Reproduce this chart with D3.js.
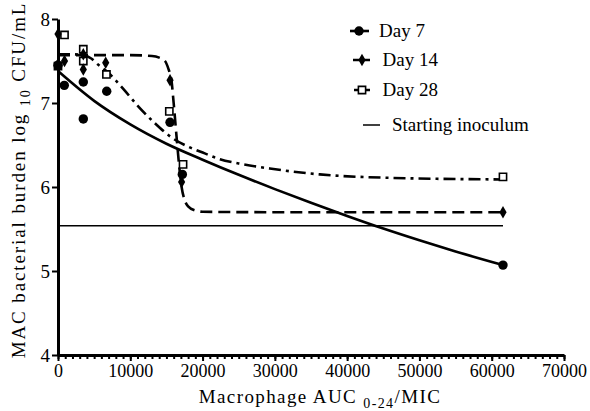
<!DOCTYPE html>
<html><head><meta charset="utf-8">
<script src="https://cdn.jsdelivr.net/npm/d3@7"></script>
<style>body{margin:0;background:#fff}svg{display:block}
svg text{font-family:"Liberation Serif","Liberation Sans",Arial,sans-serif;fill:#000}</style>
</head><body><svg id="c" width="590" height="411"></svg>
<script>
// ---- data ----
const xTicks = [0,10000,20000,30000,40000,50000,60000,70000];
const yTicks = [4,5,6,7,8];
const seriesNames = ["Day 7","Day 14","Day 28"];
const inoculumLabel = "Starting inoculum";
const inoculum = 5.54;
const inoculumX = [0, 61560];

const day7X = [0,870,3500,3500,6740,15500,17200,61560];
const day7Y = [7.45,7.21,7.25,6.81,7.14,6.77,6.15,5.07];
const day14X = [0,0,900,3500,3500,6600,15500,17100,61560];
const day14Y = [7.82,7.46,7.50,7.58,7.40,7.48,7.27,6.06,5.70];
const day28X = [0,900,3500,3500,6700,15400,17300,61560];
const day28Y = [7.44,7.81,7.64,7.50,7.34,6.90,6.27,6.12];

// fitted curves
const fit7X = [0,5000,10000,15000,20000,25000,30000,35000,40000,45000,50000,55000,61560];
const fit7Y = [7.38,7.025,6.745,6.515,6.325,6.145,5.975,5.812,5.655,5.505,5.365,5.232,5.07];
const fit14X = [0,5000,10000,13000,14000,14800,15300,15700,16000,16400,16800,17100,17500,18000,19000,20000,30000,61560];
const fit14Y = [7.57,7.57,7.57,7.56,7.54,7.50,7.40,7.27,7.00,6.60,6.22,6.00,5.85,5.77,5.72,5.705,5.70,5.70];
const fit28X = [0,2000,3500,4600,5500,6700,9000,11000,13400,15700,18000,20300,22400,25000,29300,36200,45500,61560];
const fit28Y = [7.58,7.58,7.57,7.53,7.46,7.38,7.17,6.97,6.76,6.59,6.48,6.40,6.33,6.28,6.22,6.15,6.11,6.09];

// ---- drawing ----
const svg = d3.select("#c");
const x = d3.scaleLinear().domain([0,70000]).range([58,564]);
const y = d3.scaleLinear().domain([4,8]).range([355,19]);

svg.append("g").attr("transform","translate(0,355)")
  .call(d3.axisBottom(x).tickValues(d3.range(0,70001,1000)).tickSize(4).tickFormat(""))
  .call(g=>{g.select(".domain").remove();g.selectAll("line").attr("stroke-width",2);});
svg.append("g").attr("transform","translate(0,355)")
  .call(d3.axisBottom(x).tickValues(xTicks).tickSize(6).tickPadding(3).tickFormat(d3.format("d")).tickSizeOuter(0))
  .call(g=>{g.attr("font-family",null);g.select(".domain").attr("stroke-width",3);
    g.selectAll("line").attr("stroke-width",2);
    g.selectAll("text").attr("font-size",18);});
svg.append("g").attr("transform","translate(58,0)")
  .call(d3.axisLeft(y).tickValues(yTicks).tickSize(6).tickPadding(2).tickFormat(d3.format("d")).tickSizeOuter(0))
  .call(g=>{g.attr("font-family",null);g.select(".domain").attr("stroke-width",3);
    g.selectAll("line").attr("stroke-width",2);
    g.selectAll("text").attr("font-size",19);});

svg.append("line").attr("x1",x(inoculumX[0])).attr("x2",x(inoculumX[1]))
  .attr("y1",y(inoculum)).attr("y2",y(inoculum)).attr("stroke","#000").attr("stroke-width",1.5);

const line = d3.line().x(d=>x(d[0])).y(d=>y(d[1])).curve(d3.curveMonotoneX);
const dashes = [null,"12,6","12,5,3,5"];
const fits = [[fit7X,fit7Y],[fit14X,fit14Y],[fit28X,fit28Y]];
fits.forEach((f,i)=>{
  svg.append("path").datum(f[0].map((v,j)=>[v,f[1][j]]))
    .attr("d",line).attr("fill","none").attr("stroke","#000").attr("stroke-width",2.6)
    .attr("stroke-dasharray",dashes[i]);
});

const sym = [d3.symbol().type(d3.symbolCircle).size(70),
             d3.symbol().type(d3.symbolDiamond).size(45),
             d3.symbol().type(d3.symbolSquare).size(52)];
function drawMarker(g,i,cx,cy){
  const p = g.append("path").attr("d",sym[i]()).attr("transform",`translate(${cx},${cy})`);
  if(i===2) p.attr("fill","#fff").attr("stroke","#000").attr("stroke-width",1.6);
  else p.attr("fill","#000");
}
const pts = [[day7X,day7Y],[day14X,day14Y],[day28X,day28Y]];
const mg = svg.append("g");
[2,1,0].forEach(i=>{
  pts[i][0].forEach((v,j)=>drawMarker(mg,i,x(v),y(pts[i][1][j])));
});

const leg = svg.append("g");
const legY = [31,60,90];
const legLine = [[350,369],[353,370],[354,370]];
seriesNames.forEach((n,i)=>{
  leg.append("line").attr("x1",legLine[i][0]).attr("x2",legLine[i][1]).attr("y1",legY[i]).attr("y2",legY[i])
    .attr("stroke","#000").attr("stroke-width",2.6).attr("stroke-dasharray",i===1?"7,3":(i===2?"5,2,2,2":null));
  drawMarker(leg,i,360+(i===0?-1:2),legY[i]);
  leg.append("text").attr("x",379+(i===0?0:3.5)).attr("y",legY[i]+6).attr("font-size",19).text(n);
});
leg.append("line").attr("x1",363).attr("x2",380).attr("y1",125).attr("y2",125).attr("stroke","#000").attr("stroke-width",1.5);
leg.append("text").attr("x",392).attr("y",131).attr("font-size",19).text(inoculumLabel);

const xt = svg.append("text").attr("x",320).attr("y",403).attr("text-anchor","middle").attr("font-size",19)
  .style("letter-spacing","1.4px");
xt.append("tspan").text("Macrophage AUC ");
xt.append("tspan").attr("font-size",14).attr("dy",5).text("0-24");
xt.append("tspan").attr("dy",-5).text("/MIC");

const yt = svg.append("text").attr("transform","translate(25,180) rotate(-90)").attr("text-anchor","middle").attr("font-size",19)
  .style("letter-spacing","1.9px");
yt.append("tspan").text("MAC bacterial burden log ");
yt.append("tspan").attr("font-size",14).attr("dy",5).text("10");
yt.append("tspan").attr("dy",-5).text(" CFU/mL");
</script></body></html>
